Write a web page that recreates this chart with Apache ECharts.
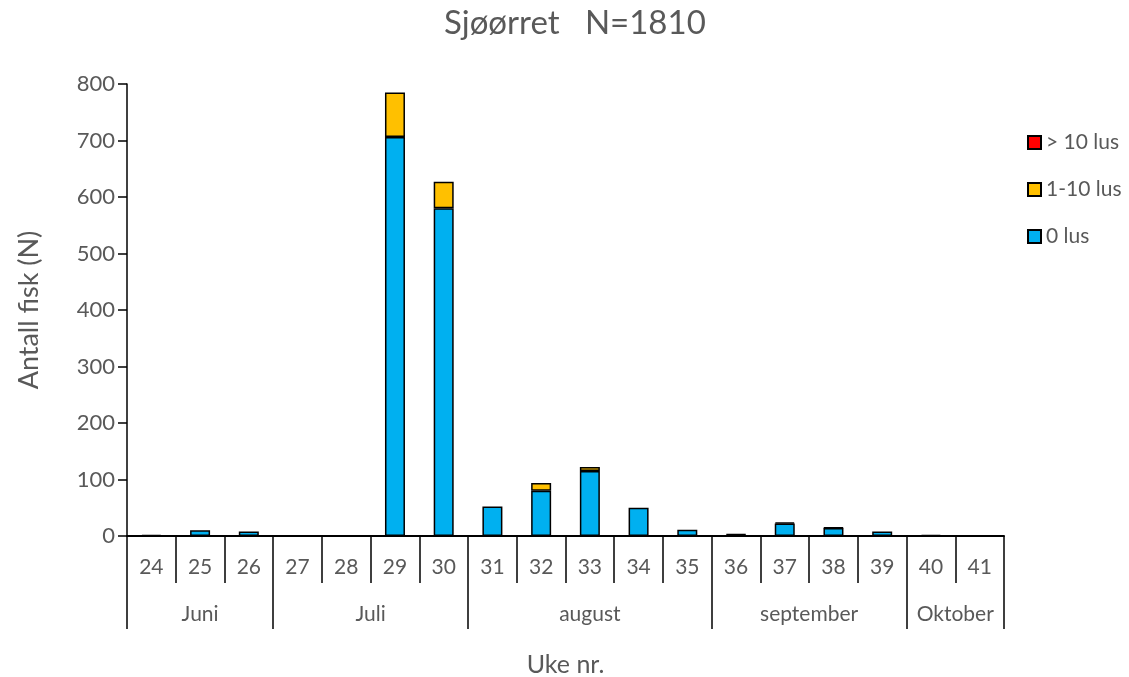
<!DOCTYPE html>
<html>
<head>
<meta charset="utf-8">
<script src="https://cdn.jsdelivr.net/npm/echarts@6/dist/echarts.min.js"></script>
<style>html,body{margin:0;padding:0;background:#fff}#c{width:1129px;height:677px}</style>
</head>
<body>
<div id="c"></div>
<script>
const weeks = ['24','25','26','27','28','29','30','31','32','33','34','35','36','37','38','39','40','41'];
const lus0 = [2, 10, 8, 0, 0, 706, 580, 52, 80, 115, 50, 11, 2, 22, 14, 8, 2, 0];
const lus1to10 = [0, 0, 0, 0, 0, 79, 47, 0, 14, 7, 0, 0, 1, 2, 1, 0, 0, 0];
const lusOver10 = [0, 0, 0, 0, 0, 0, 0, 0, 0, 0, 0, 0, 0, 0, 0, 0, 0, 0];
const months = ['Juni', 'Juli', 'august', 'september', 'Oktober'];
const monthBounds = [0, 3, 7, 12, 16, 18];
const yTicks = [0, 100, 200, 300, 400, 500, 600, 700, 800];

const font = 'Lato, "Noto Sans", sans-serif';
const grey = '#595959';
const monthCenters = months.map((m, i) => (monthBounds[i] + monthBounds[i + 1]) / 2);
const nz = arr => arr.map(v => v === 0 ? '-' : v);

const chart = echarts.init(document.getElementById('c'));
const barStyle = c => ({ color: c, borderColor: '#000', borderWidth: 1.5 });
chart.setOption({
  animation: false,
  title: {
    text: 'Sjøørret   N=1810', left: 444, top: 7, padding: 0,
    textStyle: { fontFamily: font, fontSize: 33, fontWeight: 'normal', color: grey }
  },
  legend: {
    orient: 'vertical', left: 1027, top: 132, padding: 0, itemGap: 26, itemWidth: 13, itemHeight: 13,
    data: ['> 10 lus', '1-10 lus', '0 lus'],
    textStyle: { fontFamily: font, fontSize: 21, color: grey },
    icon: 'rect'
  },
  grid: { left: 127, right: 125, top: 84, bottom: 141, containLabel: false, outerBoundsMode: 'none' },
  xAxis: [
    {
      type: 'category', data: weeks, position: 'bottom',
      axisLine: { lineStyle: { color: '#000', width: 2 } },
      axisTick: { show: true, length: 47, lineStyle: { color: '#000', width: 1.5 } },
      axisLabel: { fontFamily: font, fontSize: 21, color: grey, margin: 21 }
    },
    {
      type: 'value', min: 0, max: 18, position: 'bottom', offset: 47,
      axisLine: { show: false },
      splitLine: { show: false },
      axisTick: { show: true, length: 46, customValues: monthBounds, lineStyle: { color: '#000', width: 1.5 } },
      axisLabel: {
        fontFamily: font, fontSize: 21, color: grey, margin: 21,
        customValues: monthCenters,
        formatter: v => months[monthCenters.indexOf(v)] || ''
      },
      name: 'Uke nr.', nameLocation: 'middle', nameGap: 69,
      nameTextStyle: { fontFamily: font, fontSize: 25, color: grey }
    }
  ],
  yAxis: {
    type: 'value', min: yTicks[0], max: yTicks[yTicks.length - 1], interval: 100,
    axisLine: { show: true, lineStyle: { color: '#000', width: 1.5 } },
    axisTick: { show: true, length: 9, lineStyle: { color: '#000', width: 1.5 } },
    splitLine: { show: false },
    axisLabel: { fontFamily: font, fontSize: 22, color: grey, margin: 12 },
    name: 'Antall fisk (N)', nameLocation: 'middle', nameGap: 84, nameRotate: 90,
    nameTextStyle: { fontFamily: font, fontSize: 27, color: grey }
  },
  series: [
    { name: '0 lus', type: 'bar', stack: 's', xAxisIndex: 0, barWidth: 20, data: nz(lus0), itemStyle: barStyle('#00B0F0') },
    { name: '1-10 lus', type: 'bar', stack: 's', xAxisIndex: 0, barWidth: 20, data: nz(lus1to10), itemStyle: barStyle('#FFC000') },
    { name: '> 10 lus', type: 'bar', stack: 's', xAxisIndex: 0, barWidth: 20, data: nz(lusOver10), itemStyle: barStyle('#FF0000') }
  ]
});
</script>
</body>
</html>
